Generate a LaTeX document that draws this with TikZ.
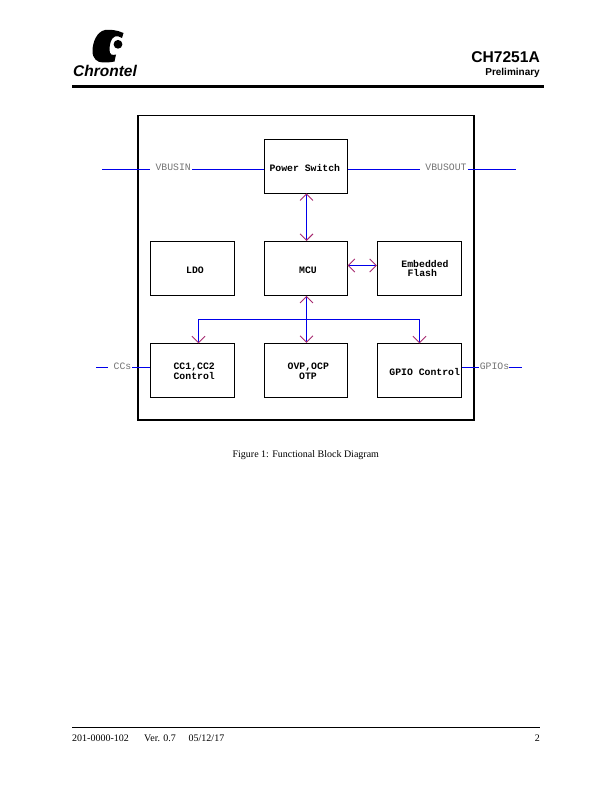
\documentclass[tikz,border=0pt]{standalone}
\usepackage{fontspec}
\setmainfont{Liberation Serif}
\setsansfont{Liberation Sans}
\setmonofont{Liberation Mono}
\usetikzlibrary{arrows.meta}
\definecolor{wireblue}{RGB}{0,0,235}
\definecolor{tipred}{RGB}{165,40,110}
\newcommand{\sh}[1]{\hspace*{#1pt}}
\newcommand{\dn}[1]{\rule{0pt}{#1pt}}
\tikzset{
 blockbox/.style={draw=black,line width=0.8pt,minimum width=83pt,minimum height=54pt,inner sep=0pt,align=center,font=\ttfamily\bfseries\fontsize{9.8}{11}\selectfont,text=black},
 widebox/.style={blockbox,minimum width=84.3pt},
 pinlabel/.style={font=\ttfamily\fontsize{9.8}{11}\selectfont,text=black!55,inner sep=0pt,anchor=base},
 wire/.style={draw=wireblue,line width=0.9pt},
 biarrow/.style={wire,{Straight Barb[color=tipred,length=6.5pt,width=13pt,line width=0.9pt]}-{Straight Barb[color=tipred,length=6.5pt,width=13pt,line width=0.9pt]}},
 onearrow/.style={wire,-{Straight Barb[color=tipred,length=6.5pt,width=13pt,line width=0.9pt]}},
}
\begin{document}
\begin{tikzpicture}[x=1pt,y=-1pt]
\useasboundingbox (0,0) rectangle (612,792);
% header
\fill[black] (72,85.3) rectangle (544,88);
\node[inner sep=0pt,anchor=base east,font=\sffamily\bfseries\fontsize{15.6}{18}\selectfont] (part) at (540,63) {CH7251A};
\node[inner sep=0pt,anchor=base east,font=\sffamily\bfseries\fontsize{10}{12}\selectfont] (prelim) at (540,75.5) {Preliminary};
\node[inner sep=0pt,anchor=base west,font=\sffamily\bfseries\itshape\fontsize{15.5}{17}\selectfont] (brand) at (73,77) {Chrontel};
% logo
\fill[black] (123.5,33) .. controls (117,30) and (110,29.3) .. (105,30) .. controls (97,31.5) and (92.5,42) .. (92.5,51) .. controls (92.5,58.5) and (97,62.5) .. (103,62.5) .. controls (107,62.5) and (111,62.3) .. (114.5,61.5) -- (116,54.5) .. controls (112.5,55.5) and (109.5,55) .. (109.5,50) .. controls (109.5,44) and (111,38) .. (115,36.5) .. controls (117.5,36) and (120,36.5) .. (122,38) -- cycle;
\fill[black] (118,44.3) circle (4.4);
% outer box
\draw[black,line width=1.6pt] (138,115.6) rectangle (473.7,420.2);
% blocks
\node[blockbox] (ps) at (305.8,166.3) {\dn{10.5}Power Switch\sh{2}};
\node[widebox] (ldo) at (192.4,268.4) {\dn{10.5}\sh{5.2}LDO};
\node[blockbox] (mcu) at (305.8,268.4) {\dn{10.5}\sh{4.4}MCU};
\node[widebox] (flash) at (419.4,268.4) {\sh{11.2}Embedded\\[-1.2pt]\sh{5.6}Flash};
\node[widebox] (cc) at (192.4,370.3) {\dn{9}\sh{3.6}CC1,CC2\\[-1.2pt]\sh{3.6}Control};
\node[blockbox] (ovp) at (305.8,370.3) {\dn{9}\sh{5}OVP,OCP\\[-1.2pt]\sh{4.4}OTP};
\node[widebox] (gpio) at (419.4,370.3) {\dn{10.5}\sh{10.6}GPIO Control};
% pin labels
\node[pinlabel] (vin) at (173.2,170.5) {VBUSIN};
\node[pinlabel] (vout) at (446,170.5) {VBUSOUT};
\node[pinlabel] (ccs) at (122.5,369.5) {CCs};
\node[pinlabel] (gpios) at (494.5,369.5) {GPIOs};
% free ends
\coordinate (vinL) at (102,169.5);
\coordinate (vinR) at (150,169.5);
\coordinate (voutL) at (420,169.5);
\coordinate (voutR) at (516,169.5);
\coordinate (voutM) at (467.5,169.5);
\coordinate (vinM) at (192,169.5);
\coordinate (ccL) at (96,367.5);
\coordinate (ccM) at (107.5,367.5);
\coordinate (ccR) at (132,367.5);
\coordinate (gR1) at (509,367.5);
\coordinate (gR2) at (522,367.5);
\coordinate (gL) at (479,367.5);
\coordinate (bus) at (306.5,319.5);
\coordinate (mf) at (0,265.5);
\coordinate (psx) at (306.5,193.3);
\coordinate (busL) at (198.5,343.3);
\coordinate (busR) at (419.5,343.3);
% wires
\draw[wire] (vinL) -- (vinR);
\draw[wire] (vinM) -- (ps.west |- vinM);
\draw[wire] (ps.east |- voutL) -- (voutL);
\draw[wire] (voutM) -- (voutR);
\draw[wire] (ccL) -- (ccM);
\draw[wire] (ccR) -- (cc.west |- ccR);
\draw[wire] (gpio.east |- gR1) -- (gL);
\draw[wire] (gR1) -- (gR2);
% arrows
\draw[biarrow] (psx) -- (psx |- mcu.north);
\draw[biarrow] (mcu.east |- mf) -- (flash.west |- mf);
\draw[biarrow] (psx |- mcu.south) -- (psx |- ovp.north);
\draw[onearrow] (bus) -| (busL);
\draw[onearrow] (bus) -| (busR);
% captions
\node[inner sep=0pt,anchor=base,font=\fontsize{10}{12}\selectfont] (cap) at (305.8,457) {Figure 1: Functional Block Diagram};
\draw[black,line width=0.6pt] (72,727.5) -- (540,727.5);
\node[inner sep=0pt,anchor=base west,font=\fontsize{10}{12}\selectfont] (f1) at (72,741) {201-0000-102};
\node[inner sep=0pt,anchor=base west,font=\fontsize{10}{12}\selectfont] (f2) at (144,741) {Ver. 0.7};
\node[inner sep=0pt,anchor=base west,font=\fontsize{10}{12}\selectfont] (f3) at (188.5,741) {05/12/17};
\node[inner sep=0pt,anchor=base east,font=\fontsize{10}{12}\selectfont] (f4) at (540,741) {2};
\end{tikzpicture}
\end{document}
